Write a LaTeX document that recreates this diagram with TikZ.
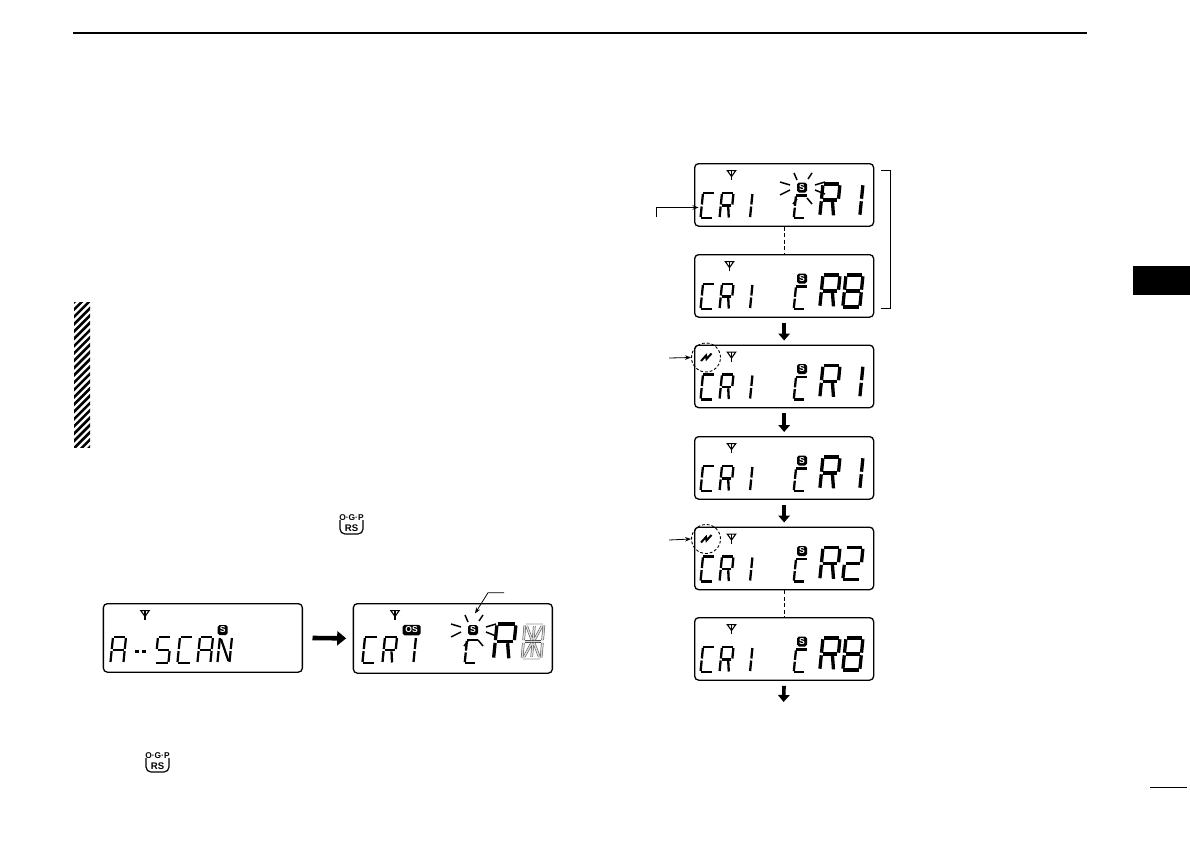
\documentclass[tikz,border=0pt]{standalone}
\usepackage{fontspec}
\setmainfont{Liberation Sans}
\usetikzlibrary{arrows.meta}
\tikzset{
  panel/.style={draw=black,line width=1.3pt,rounded corners=4pt,fill=white,inner sep=0pt,anchor=north west},
  badge/.style={fill=black,text=white,rounded corners=1.8pt,inner sep=0pt,font=\bfseries\fontsize{8.6}{9}\selectfont},
  flowarrow/.style={line width=3.6pt,-{Triangle[length=7pt,width=11.5pt]},shorten <=5pt,shorten >=4pt},
  bigarrow/.style={line width=4.6pt,-{Triangle[length=9pt,width=14pt]},shorten <=9.5pt,shorten >=6.5pt},
  thinarrow/.style={line width=.8pt,-{Stealth[length=6pt,width=4.5pt]}},
  linkdash/.style={line width=.9pt,dash pattern=on 4pt off 2.5pt},
  ray/.style={line width=1.5pt},
  ghostseg/.style={draw=black!70,line width=.5pt,double=black!15,double distance=1.5pt},
  keytop/.style={font=\bfseries\fontsize{8.4}{9}\selectfont,inner sep=0pt},
  keybot/.style={font=\bfseries\fontsize{9.6}{10}\selectfont,inner sep=0pt},
  spot/.style={circle,draw,dash pattern=on 2.8pt off 2pt,line width=.9pt,minimum size=29pt,inner sep=0pt}
}
\def\lcdA{(.04,0)--(.96,0)}
\def\lcdB{(1,.04)--(1,.46)}
\def\lcdC{(1,.54)--(1,.96)}
\def\lcdD{(.04,1)--(.96,1)}
\def\lcdE{(0,.54)--(0,.96)}
\def\lcdF{(0,.04)--(0,.46)}
\def\lcdG{(.08,.5)--(.92,.5)}
\def\lcdN{(.1,.08)--(.9,.92)}
\def\lcdL{(.66,.55)--(.8,.98)}
% x y w h lw segments
\newcommand\glyph[6]{%
  \begin{scope}[shift={(#1,#2)},x={(#3pt,0pt)},y={({-0.1*#4*1pt},{-#4*1pt})},line width=#5pt]
    \foreach \s in {#6}{\draw \csname lcd\s\endcsname;}
  \end{scope}}
\newcommand\antenna[2]{%
  \begin{scope}[shift={(#1,#2)},line width=1.1pt]
    \draw (-4.2,-4.4)--(4.2,-4.4)--(0,1.5)--cycle;
    \draw (0,-4.4)--(0,5);
  \end{scope}}
\newcommand\rays[2]{%
  \begin{scope}[shift={(#1,#2)}]
    \draw[ray] (-8,-15)--(-5,-8) (10,-15)--(6,-9) (-22,-6)--(-12,-3) (-22,7)--(-12,2)
      (13,-3)--(23,-6) (13,2)--(23,6) (-5,11)--(-9,16) (5,10)--(10,16);
  \end{scope}}
% name, top, antenna x, last glyph segments
\newcommand\panelbody[4]{%
  \node[panel,minimum width=179pt,minimum height=62.5pt] (#1) at (694,#2) {};
  \antenna{#3}{#2+12}
  \node[badge,minimum width=10pt,minimum height=10pt] (#1s) at (802,#2+24.5) {S};
  \glyph{703}{#2+30}{11.5}{25}{2.3}{A,F,E,D}
  \glyph{722}{#2+30}{11.5}{25}{2.3}{A,F,B,E,G,L}
  \glyph{742.5}{#2+30}{10}{25}{2.3}{B,C}
  \glyph{796}{#2+32.5}{11}{22.5}{2.3}{A,F,E,D}
  \glyph{823}{#2+21}{17}{32}{3.3}{A,F,B,E,G,L}
  \glyph{846}{#2+21}{17}{32}{3.3}{#4}}
\newcommand\ogpicon[2]{%
  \draw[line width=1.2pt,rounded corners=5pt] (#1-11.5,#2-6)--(#1-11.5,#2+10)--(#1+11.5,#2+10)--(#1+11.5,#2-6);
}
\begin{document}
\begin{tikzpicture}[x=1pt,y=-1pt]
\useasboundingbox (0,0) rectangle (1190,840);
\fill[white] (0,0) rectangle (1190,840);
% page furniture
\coordinate (rl) at (73,33); \coordinate (rr) at (1087,33);
\draw[line width=1.5pt] (rl)--(rr);
\coordinate (pl) at (1150,787); \coordinate (pr) at (1187,787);
\draw[line width=.9pt] (pl)--(pr);
\fill[black] (1133,266) rectangle (1190,295);
\begin{scope}
  \clip (74,302) rectangle (90,447);
  \foreach \k in {0,...,24}{\draw[line width=2.6pt] (68,{301+7.3*\k})--(98,{301+7.3*\k-30});}
\end{scope}
% right column
\panelbody{p1}{163}{731.5}{B,C}
\panelbody{p2}{254}{729.5}{A,B,C,D,E,F,G}
\panelbody{p3}{344.5}{731.5}{B,C}
\panelbody{p4}{436}{731.5}{B,C}
\panelbody{p5}{526.5}{731.5}{A,B,G,E,D}
\panelbody{p6}{617}{731.5}{A,B,C,D,E,F,G}
\rays{802}{188}
\coordinate (p7) at (783.5,706);
\draw[linkdash] (p1.south)--(p2.north);
\draw[linkdash] (p5.south)--(p6.north);
\draw[flowarrow] (p2.south)--(p3.north);
\draw[flowarrow] (p3.south)--(p4.north);
\draw[flowarrow] (p4.south)--(p5.north);
\draw[flowarrow] (p6.south)--(p7);
% bracket
\coordinate (b1) at (881,170); \coordinate (b2) at (890.5,170);
\coordinate (b3) at (890.5,308.5); \coordinate (b4) at (881,308.5);
\draw[line width=.8pt] (b1)--(b2)--(b3)--(b4);
% call-outs on the right column
\coordinate (c1) at (656,216.5); \coordinate (c1b) at (656,207.5); \coordinate (c1e) at (698.5,207.5);
\draw[thinarrow] (c1)--(c1b)--(c1e);
\node[spot] (c3) at (706,357.5) {};
\node[spot] (c5) at (706,539) {};
\coordinate (a3) at (669,358); \coordinate (a5) at (669,540);
\draw[thinarrow] (a3)--(c3.west);
\draw[thinarrow] (a5)--(c5.west);
\draw[line width=2pt] (701,361)--(706,355.5)--(706.5,359)--(711.5,353.5);
\draw[line width=2pt] (701,542.5)--(706,537)--(706.5,540.5)--(711.5,535);
% left panels
\node[panel,minimum width=199pt,minimum height=68.5pt] (qa) at (102.7,603) {};
\node[panel,minimum width=199pt,minimum height=69.5pt] (qb) at (352.7,603) {};
\draw[bigarrow] (qa.east)--(qb.west);
\antenna{145}{615}
\node[badge,minimum width=10pt,minimum height=10pt] (qas) at (222.7,630) {S};
\glyph{113}{637}{13}{26}{2.2}{A,F,B,E,G,C}
\glyph{135}{651.5}{4.5}{1}{2.2}{A}
\glyph{142}{651.5}{4.5}{1}{2.2}{A}
\glyph{158}{637}{13}{26}{2.2}{A,F,G,C,D}
\glyph{180}{637}{13}{26}{2.2}{A,F,E,D}
\glyph{200}{637}{13}{26}{2.2}{A,F,B,C,E,G}
\glyph{220}{637}{12}{26}{2.2}{E,F,B,C,N}
\antenna{395}{615}
\node[badge,minimum width=18pt,minimum height=10.5pt] (qbos) at (411.7,630) {OS};
\node[badge,minimum width=10pt,minimum height=10pt] (qbs) at (473,630) {S};
\rays{473}{630}
\glyph{365}{637}{12}{26}{2.3}{A,F,E,D}
\glyph{385}{637}{12}{26}{2.3}{A,F,B,E,G,L}
\glyph{406}{637}{10}{26}{2.3}{B,C}
\glyph{467}{640}{11}{23}{2.3}{A,F,E,D}
\glyph{497}{624}{19}{35}{3.3}{A,F,B,E,G,L}
\begin{scope}[shift={(525,624)},x={(19pt,0pt)},y={(-3pt,-35pt)}]
  \foreach \s in {A,B,C,D,E,F,G}{\draw[ghostseg] \csname lcd\s\endcsname;}
  \draw[ghostseg] (.1,.06)--(.44,.46) (.9,.06)--(.56,.46) (.1,.94)--(.44,.54) (.9,.94)--(.56,.54) (.5,.06)--(.5,.44) (.5,.56)--(.5,.94);
\end{scope}
\coordinate (t1) at (504,592.7); \coordinate (t2) at (488,592.7); \coordinate (t3) at (475,613.5);
\draw[thinarrow] (t1)--(t2)--(t3);
% key icons
\ogpicon{351.5}{524}
\node[keytop,fill=white,inner xsep=.5pt] (k1t) at (351.5,517.5) {O·G·P};
\node[keybot] (k1b) at (351.5,528) {RS};
\ogpicon{157.5}{762}
\node[keytop,fill=white,inner xsep=.5pt] (k2t) at (157.5,755.5) {O·G·P};
\node[keybot] (k2b) at (157.5,766) {RS};
\end{tikzpicture}
\end{document}
